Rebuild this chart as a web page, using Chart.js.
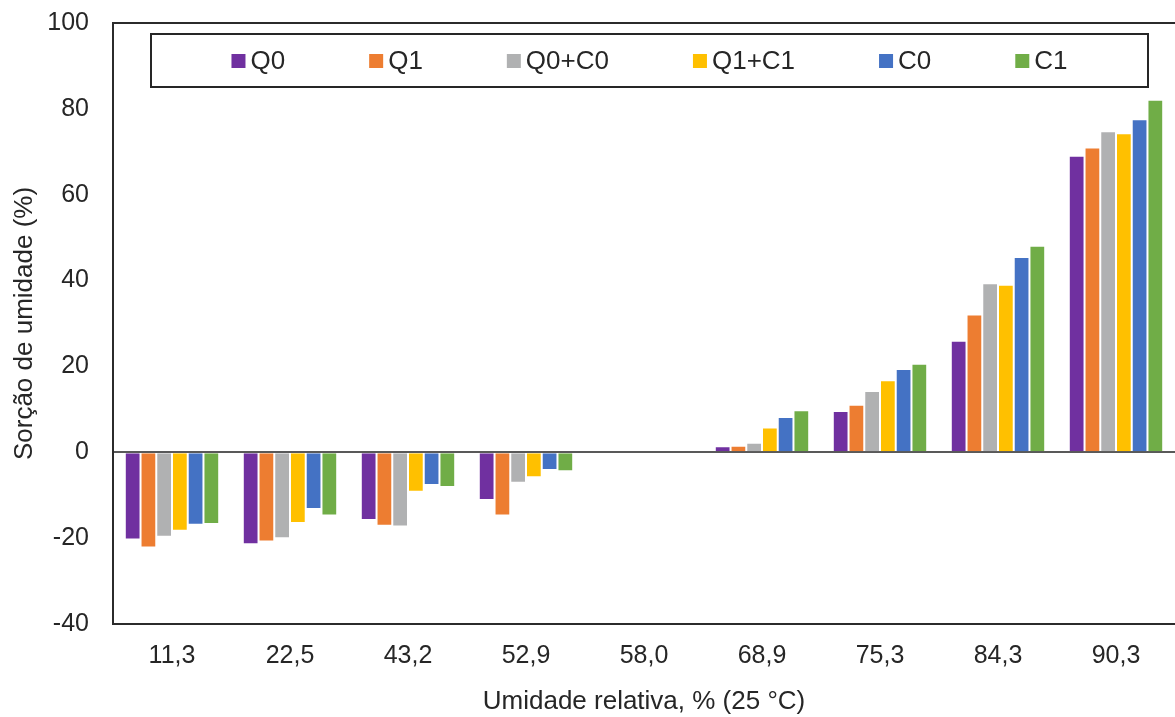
<!DOCTYPE html>
<html>
<head>
<meta charset="utf-8">
<script src="https://cdn.jsdelivr.net/npm/chart.js@4"></script>
<style>
  html, body { margin: 0; padding: 0; background: #fff; overflow: hidden; }
  #wrap { width: 1175px; height: 717px; }
</style>
</head>
<body>
<div id="wrap"><canvas id="chart" width="1175" height="717"></canvas></div>
<script>
// umidade relativa (categorias)
const labels = ['11,3', '22,5', '43,2', '52,9', '58,0', '68,9', '75,3', '84,3', '90,3'];

// sorção de umidade (%) por amostra
const q0   = [-20.3, -21.4, -15.8, -11.1, 0, 1.4,  9.6, 26.0, 69.1];
const q1   = [-22.2, -20.8, -17.1, -14.7, 0, 1.5, 11.1, 32.1, 71.0];
const q0c0 = [-19.7, -20.0, -17.3,  -7.1, 0, 2.2, 14.3, 39.4, 74.8];
const q1c1 = [-18.3, -16.5,  -9.2,  -5.8, 0, 5.8, 16.8, 39.0, 74.3];
const c0   = [-16.9, -13.2,  -7.6,  -4.1, 0, 8.2, 19.4, 45.5, 77.6];
const c1   = [-16.7, -14.7,  -8.1,  -4.4, 0, 9.8, 20.6, 48.1, 82.1];

const seriesNames = ['Q0', 'Q1', 'Q0+C0', 'Q1+C1', 'C0', 'C1'];
const seriesData = [q0, q1, q0c0, q1c1, c0, c1];
const seriesColors = ['#7030A0', '#ED7D31', '#B0B1B2', '#FFC000', '#4472C4', '#70AD47'];

const FONT = "'Liberation Sans', Arial, sans-serif";
const TEXT = '#262626';

// moldura da área do gráfico (sem o lado direito)
const frame = {
  id: 'frame',
  afterDraw(chart) {
    const { ctx, chartArea: a } = chart;
    ctx.save();
    ctx.strokeStyle = '#2b2b2b';
    ctx.lineWidth = 2;
    ctx.beginPath();
    ctx.moveTo(chart.width + 2, a.top);
    ctx.lineTo(a.left, a.top);
    ctx.lineTo(a.left, a.bottom);
    ctx.lineTo(chart.width + 2, a.bottom);
    ctx.stroke();
    ctx.restore();
  }
};

// legenda dentro de uma caixa no topo
const boxLegend = {
  id: 'boxLegend',
  afterDraw(chart) {
    const { ctx, chartArea: a } = chart;
    const bx = a.left + 38, by = a.top + 11;
    const bw = a.right - 27 - bx, bh = 53;
    ctx.save();
    ctx.strokeStyle = '#262626';
    ctx.lineWidth = 2;
    ctx.strokeRect(bx, by, bw, bh);

    ctx.font = '26px ' + FONT;
    ctx.textBaseline = 'middle';
    const sw = 14, gapText = 5, gapItem = 84;
    const items = chart.data.datasets.map(ds => ({
      text: ds.label,
      color: ds.backgroundColor,
      w: sw + gapText + ctx.measureText(ds.label).width
    }));
    const total = items.reduce((s, it) => s + it.w, 0) + gapItem * (items.length - 1);
    let x = bx + (bw - total) / 2;
    const cy = by + bh / 2 + 0.5;
    items.forEach(it => {
      ctx.fillStyle = it.color;
      ctx.fillRect(x, cy - sw / 2, sw, sw);
      ctx.fillStyle = TEXT;
      ctx.fillText(it.text, x + sw + gapText, cy + 1);
      x += it.w + gapItem;
    });
    ctx.restore();
  }
};

new Chart(document.getElementById('chart'), {
  type: 'bar',
  data: {
    labels: labels,
    datasets: seriesNames.map((name, i) => ({
      label: name,
      data: seriesData[i],
      backgroundColor: seriesColors[i],
      borderColor: 'rgba(255,255,255,0.55)',
      borderWidth: 1,
      categoryPercentage: 0.8,
      barPercentage: 1.0
    }))
  },
  options: {
    responsive: false,
    animation: false,
    devicePixelRatio: 1,
    layout: { padding: { top: 23, right: 0, left: 0, bottom: 0 } },
    plugins: {
      legend: { display: false },
      tooltip: { enabled: false }
    },
    scales: {
      x: {
        grid: { display: false, drawTicks: false },
        border: { display: false },
        ticks: { color: TEXT, font: { family: FONT, size: 25 }, padding: 17, maxRotation: 0 },
        title: {
          display: true,
          text: 'Umidade relativa, % (25 °C)',
          color: TEXT,
          font: { family: FONT, size: 26 },
          padding: { top: -2, bottom: 0 }
        },
        afterFit(scale) { scale.height = 93; }
      },
      y: {
        min: -40,
        max: 100,
        ticks: { stepSize: 20, color: TEXT, font: { family: FONT, size: 25 }, padding: 24 },
        grid: {
          drawTicks: false,
          lineWidth: 2,
          color: c => (c.tick && c.tick.value === 0) ? '#595959' : 'rgba(0,0,0,0)'
        },
        border: { display: false },
        title: {
          display: true,
          text: 'Sorção de umidade (%)',
          color: TEXT,
          font: { family: FONT, size: 26 },
          padding: { top: 9, bottom: 0 }
        },
        afterFit(scale) {
          scale.width = 113;
          scale.paddingTop = 0;
          scale.paddingBottom = 0;
        }
      }
    }
  },
  plugins: [frame, boxLegend]
});
</script>
</body>
</html>
